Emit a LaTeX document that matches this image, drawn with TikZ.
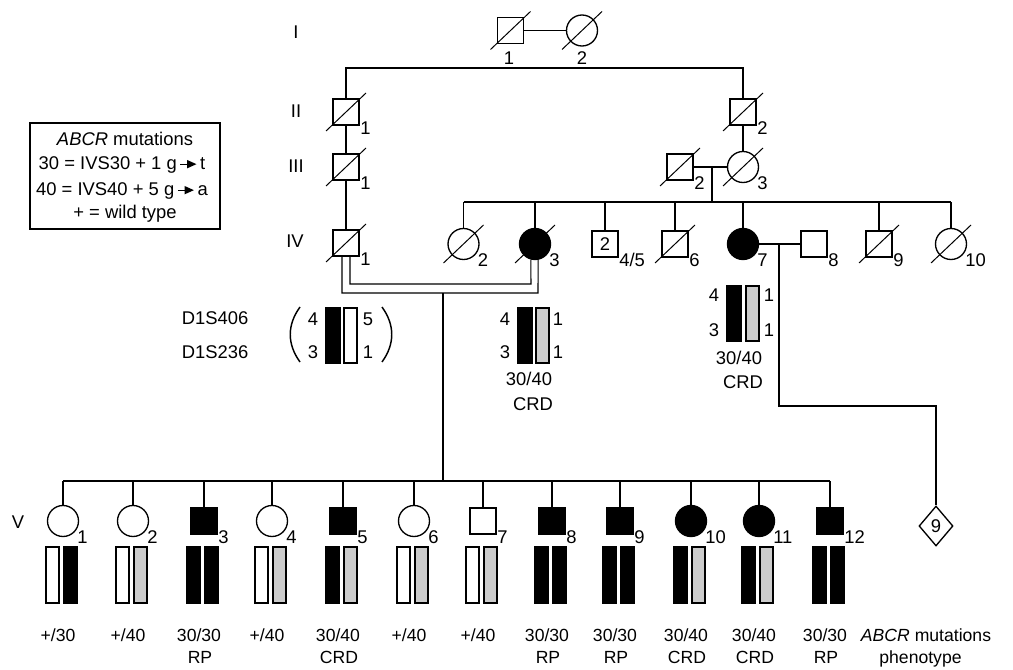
\documentclass[tikz,border=0pt]{standalone}
\usepackage{fontspec}
\setmainfont{Liberation Sans}
\usetikzlibrary{shapes.geometric,calc,arrows.meta}
\newcommand{\garr}{\tikz[baseline=-0.6ex]\draw[line width=0.9pt,-{Triangle[length=7pt,width=6pt]}] (0pt,0pt) -- (12pt,0pt);}
\definecolor{bargrey}{HTML}{CCCCCC}
\begin{document}
\begin{tikzpicture}[x=0.75pt,y=-0.75pt,
  every node/.style={font=\fontsize{13.8}{18}\selectfont, inner sep=0pt},
  male/.style={draw, rectangle, minimum size=19.5pt, line width=1pt},
  female/.style={draw, circle, minimum size=23.25pt, line width=1pt},
  aff/.style={fill=black},
  unk/.style={draw, diamond, aspect=0.85, minimum width=25.5pt, minimum height=30pt, line width=1pt},
  conn/.style={line width=0.8pt},
  slash/.style={line width=0.75pt},
  barst/.style={line width=0.8pt},
  lab/.style={anchor=west},
  txt/.style={anchor=base},
  small/.style={font=\fontsize{13.2}{16}\selectfont},
]
\useasboundingbox (0,0) rectangle (1013,670);

% generation labels
\node (gI) at (296,32) {I};
\node (gII) at (296,111) {II};
\node (gIII) at (296,166) {III};
\node (gIV) at (295,241) {IV};
\node (gV) at (18,522) {V};

% legend
\node[draw, line width=0.8pt, minimum width=142.5pt, minimum height=79.5pt] (legend) at (125,176) {};
\node[txt] (leg1) at (125,146) {\textit{ABCR} mutations};
\node[txt] (leg2) at (122,170) {30 = IVS30 + 1 g\,\garr\,t};
\node[txt] (leg3) at (122,196) {40 = IVS40 + 5 g\,\garr\,a};
\node[txt] (leg4) at (125,219) {+ = wild type};

% generation I
\node[male] (I1) at (510.5,30.5) {};
\node[female] (I2) at (582,30.5) {};
\draw[conn] (I1) -- (I2);
\node (lI1) at (509,58) {1};
\node (lI2) at (582,58) {2};

% generation II
\node[male] (II1) at (346,112) {};
\node[male] (II2) at (743,112) {};
\coordinate (sI) at (346,68);
\draw[conn] (II1.north) -- (II1.north |- sI) -- (II2.north |- sI) -- (II2.north);
\node[lab] (lII1) at (360,128) {1};
\node[lab] (lII2) at (757,128) {2};

% generation III
\node[male] (III1) at (346,167) {};
\node[male] (III2) at (680,167) {};
\node[female] (III3) at (743,167) {};
\draw[conn] (II1) -- (III1);
\draw[conn] (II2) -- (III3);
\draw[conn] (III2) -- (III3);
\node[lab] (lIII1) at (360,183) {1};
\node[lab] (lIII2) at (694,183) {2};
\node[lab] (lIII3) at (757,183) {3};
\coordinate (mIII) at (712,167);
\coordinate (sIV) at (712,202);
\draw[conn] (mIII) -- (sIV);

% generation IV
\node[male] (IV1) at (346,243) {};
\node[female] (IV2) at (463.5,244) {};
\node[female,aff] (IV3) at (535,244) {};
\node[male] (IV45) at (605,244) {2};
\node[male] (IV6) at (675,244) {};
\node[female,aff] (IV7) at (743,244) {};
\node[male] (IV8) at (814,244) {};
\node[male] (IV9) at (879,244) {};
\node[female] (IV10) at (951,244) {};
\draw[conn] (III1) -- (IV1);
\draw[conn] (IV2.north |- sIV) -- (IV10.north |- sIV);
\foreach \n in {IV2,IV3,IV45,IV6,IV7,IV9,IV10}
  \draw[conn] (\n.north) -- (\n.north |- sIV);
\draw[conn] (IV7) -- (IV8);
\node[lab] (lIV1) at (360,259) {1};
\node[lab] (lIV2) at (477.5,260) {2};
\node[lab] (lIV3) at (549,260) {3};
\node[lab] (lIV45) at (619,260) {4/5};
\node[lab] (lIV6) at (689,260) {6};
\node[lab] (lIV7) at (757,260) {7};
\node[lab] (lIV8) at (828,260) {8};
\node[lab] (lIV9) at (893,260) {9};
\node[lab] (lIV10) at (965,260) {10};

% consanguineous marriage
\coordinate (cA1) at (350,284);
\coordinate (cA2) at (531,284);
\coordinate (cB1) at (342,293);
\coordinate (cB2) at (538,293);
\draw[conn] (IV1.south -| cA1) -- (cA1) -- (cA2) -- (IV3.-105);
\draw[conn] (IV1.south -| cB1) -- (cB1) -- (cB2) -- (IV3.-79);
\coordinate (mIV) at (443,293);
\coordinate (sV) at (443,481);
\draw[conn] (mIV) -- (sV);

% IV-1 haplotype (bracketed)
\node (m406) at (215,318) {D1S406};
\node (m236) at (215,352) {D1S236};
\draw[line width=1.1pt] (300,307) .. controls (287,325) and (287,344) .. (300,362);
\draw[line width=1.1pt] (382,307) .. controls (395,325) and (395,344) .. (382,362);
\node[txt] (h1a) at (313,325) {4};
\node[txt] (h1b) at (313,358) {3};
\draw[barst, fill=black] (326,308) rectangle (340,363);
\draw[barst, fill=white] (344,308) rectangle (357,363);
\node[txt] (h1c) at (368,325) {5};
\node[txt] (h1d) at (368,358) {1};

% IV-3 haplotype
\node[txt] (h3a) at (505,325) {4};
\node[txt] (h3b) at (505,358) {3};
\draw[barst, fill=black] (518,308) rectangle (532,363);
\draw[barst, fill=bargrey] (536,308) rectangle (549,363);
\node[txt] (h3c) at (558,325) {1};
\node[txt] (h3d) at (558,358) {1};
\node[txt] (g3) at (529,385.5) {30/40};
\node[txt] (p3) at (533,410.5) {CRD};

% IV-7 haplotype
\node[txt] (h7a) at (714,301.5) {4};
\node[txt] (h7b) at (714,336.5) {3};
\draw[barst, fill=black] (727,286) rectangle (741,341);
\draw[barst, fill=bargrey] (746,286) rectangle (759,341);
\node[txt] (h7c) at (769,301.5) {1};
\node[txt] (h7d) at (769,336.5) {1};
\node[txt] (g7) at (739,364) {30/40};
\node[txt] (p7) at (743,388) {CRD};

% IV-7 x IV-8 offspring
\node[unk] (U9) at (936,526) {9};
\coordinate (mIV7) at (779,245);
\coordinate (dA) at (779,406);
\coordinate (dB) at (936,406);
\draw[conn] (mIV7) -- (dA) -- (dB) -- (U9.north);

% generation V
\node[female] (V1) at (63,521) {};
\node[female] (V2) at (133,521) {};
\node[male,aff] (V3) at (204,521) {};
\node[female] (V4) at (272,521) {};
\node[male,aff] (V5) at (343,521) {};
\node[female] (V6) at (414,521) {};
\node[male] (V7) at (483,521) {};
\node[male,aff] (V8) at (552,521) {};
\node[male,aff] (V9) at (620,521) {};
\node[female,aff] (V10) at (691,521) {};
\node[female,aff] (V11) at (759,521) {};
\node[male,aff] (V12) at (830,521) {};
\draw[conn] (V1.north |- sV) -- (V12.north |- sV);
\foreach \n in {V1,V2,V3,V4,V5,V6,V7,V8,V9,V10,V11,V12}
  \draw[conn] (\n.north) -- (\n.north |- sV);

\foreach \n/\x/\l/\r/\g/\p in {
  1/63/white/black/{+/30}/{},
  2/133/white/bargrey/{+/40}/{},
  3/204/black/black/{30/30}/RP,
  4/272/white/bargrey/{+/40}/{},
  5/343/black/bargrey/{30/40}/CRD,
  6/414/white/bargrey/{+/40}/{},
  7/483/white/bargrey/{+/40}/{},
  8/552/black/black/{30/30}/RP,
  9/620/black/black/{30/30}/RP,
  10/691/black/bargrey/{30/40}/CRD,
  11/759/black/bargrey/{30/40}/CRD,
  12/830/black/black/{30/30}/RP}{
  \node[lab] (lV\n) at (\x+14,537) {\n};
  \draw[barst, fill=\l] (\x-17,547) rectangle (\x-4,603);
  \draw[barst, fill=\r] (\x+1,547) rectangle (\x+14,603);
  \node[txt,small] (gV\n) at (\x-5,641.5) {\g};
  \node[txt,small] (pV\n) at (\x-4,663) {\p};
}
\node[txt,small] (keyg) at (926,641.5) {\textit{ABCR} mutations};
\node[txt,small] (keyp) at (920.5,663) {phenotype};

% deceased slashes
\foreach \n in {I1,I2,II1,II2,III1,III2,III3,IV1,IV2,IV3,IV6,IV9,IV10}
  \draw[slash] ($(\n.center)+(-20,19)$) -- ($(\n.center)+(20,-19)$);
\end{tikzpicture}
\end{document}
